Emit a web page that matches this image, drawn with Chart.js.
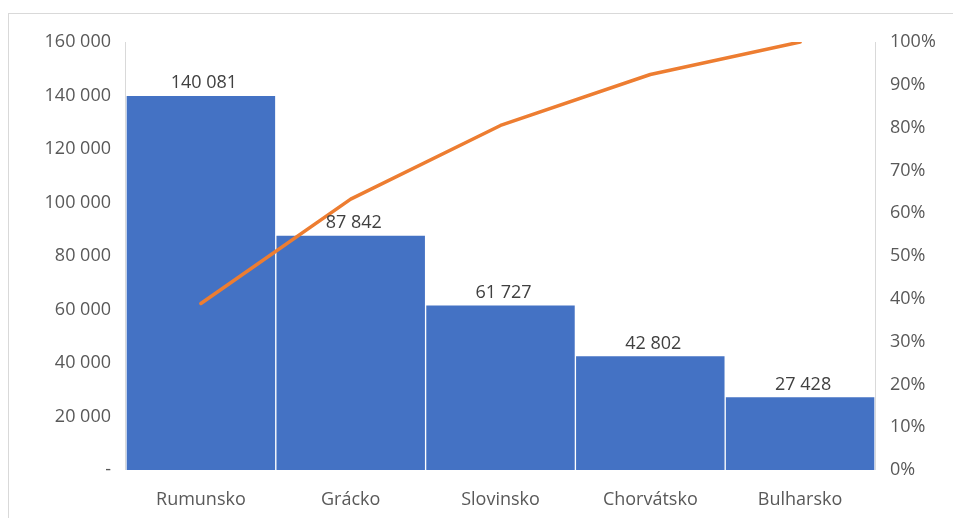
<!DOCTYPE html>
<html>
<head>
<meta charset="utf-8">
<script src="https://cdn.jsdelivr.net/npm/chart.js@4/dist/chart.umd.min.js"></script>
<style>
  html, body { margin: 0; padding: 0; background: #fff; }
  #wrap { width: 953px; height: 518px; position: relative; }
</style>
</head>
<body>
<div id="wrap"><canvas id="c" width="953" height="518"></canvas></div>
<script>
// Krajiny a počty (stĺpce) + kumulatívny podiel v % (čiara)
const categories = ['Rumunsko', 'Grácko', 'Slovinsko', 'Chorvátsko', 'Bulharsko'];
const counts = [140081, 87842, 61727, 42802, 27428];
const cumulativePct = [38.9, 63.3, 80.5, 92.4, 100];
const leftTicks = [0, 20000, 40000, 60000, 80000, 100000, 120000, 140000, 160000];
const rightTicks = [0, 10, 20, 30, 40, 50, 60, 70, 80, 90, 100];

const TEXT = '#595959';
const FONT = "'Open Sans', 'DejaVu Sans', sans-serif";
const FSIZE = 18;

function fmtThousands(v) {
  return String(v).replace(/\B(?=(\d{3})+(?!\d))/g, ' ');
}

// rámik grafu, osi a popisky hodnôt nad stĺpcami
const decor = {
  id: 'decor',
  beforeDraw(chart) {
    const ctx = chart.ctx;
    ctx.save();
    ctx.fillStyle = '#fff';
    ctx.fillRect(0, 0, chart.width, chart.height);
    ctx.strokeStyle = '#d9d9d9';
    ctx.lineWidth = 1;
    ctx.strokeRect(8.5, 13.5, 1200, 1200);
    ctx.restore();
  },
  afterDatasetsDraw(chart) {
    const ctx = chart.ctx;
    const a = chart.chartArea;
    ctx.save();
    ctx.strokeStyle = '#d9d9d9';
    ctx.lineWidth = 1;
    ctx.beginPath();
    ctx.moveTo(Math.round(a.left) - 0.5, a.top);
    ctx.lineTo(Math.round(a.left) - 0.5, a.bottom);
    ctx.moveTo(Math.round(a.right) + 0.5, a.top);
    ctx.lineTo(Math.round(a.right) + 0.5, a.bottom);
    ctx.stroke();
    ctx.restore();
  },
  afterDraw(chart) {
    const ctx = chart.ctx;
    const meta = chart.getDatasetMeta(1);
    ctx.save();
    ctx.fillStyle = '#404040';
    ctx.font = FSIZE + 'px ' + FONT;
    ctx.textAlign = 'center';
    ctx.textBaseline = 'middle';
    meta.data.forEach((bar, i) => {
      ctx.fillText(fmtThousands(counts[i]), bar.x + 3, bar.y - 12);
    });
    ctx.restore();
  }
};

new Chart(document.getElementById('c'), {
  data: {
    labels: categories,
    datasets: [
      {
        type: 'line',
        data: cumulativePct,
        yAxisID: 'y1',
        borderColor: '#ED7D31',
        borderWidth: 3.5,
        borderCapStyle: 'round',
        borderJoinStyle: 'round',
        pointRadius: 0,
        tension: 0,
        order: 0
      },
      {
        type: 'bar',
        data: counts,
        yAxisID: 'y',
        backgroundColor: '#4472C4',
        borderColor: '#ffffff',
        borderWidth: 1,
        barPercentage: 1,
        categoryPercentage: 1,
        order: 1
      }
    ]
  },
  options: {
    responsive: false,
    animation: false,
    layout: { padding: { top: 42, left: 0, right: 0, bottom: 0 } },
    plugins: { legend: { display: false }, tooltip: { enabled: false } },
    scales: {
      x: {
        grid: { display: false, drawTicks: false },
        border: { display: false },
        ticks: { color: TEXT, font: { family: FONT, size: FSIZE }, padding: 19, maxRotation: 0 },
        afterFit(s) { s.height = 48; }
      },
      y: {
        position: 'left',
        min: 0, max: 160000,
        grid: { display: false, drawTicks: false },
        border: { display: false },
        afterBuildTicks(s) { s.ticks = leftTicks.map(v => ({ value: v })); },
        ticks: {
          color: TEXT, font: { family: FONT, size: FSIZE }, padding: 15,
          callback: v => v === 0 ? '-' : fmtThousands(v)
        },
        afterFit(s) { s.width = 126; }
      },
      y1: {
        position: 'right',
        min: 0, max: 100,
        grid: { display: false, drawTicks: false },
        border: { display: false },
        afterBuildTicks(s) { s.ticks = rightTicks.map(v => ({ value: v })); },
        ticks: {
          color: TEXT, font: { family: FONT, size: FSIZE }, padding: 15,
          callback: v => v + '%'
        },
        afterFit(s) { s.width = 78; }
      }
    }
  },
  plugins: [decor]
});
</script>
</body>
</html>
